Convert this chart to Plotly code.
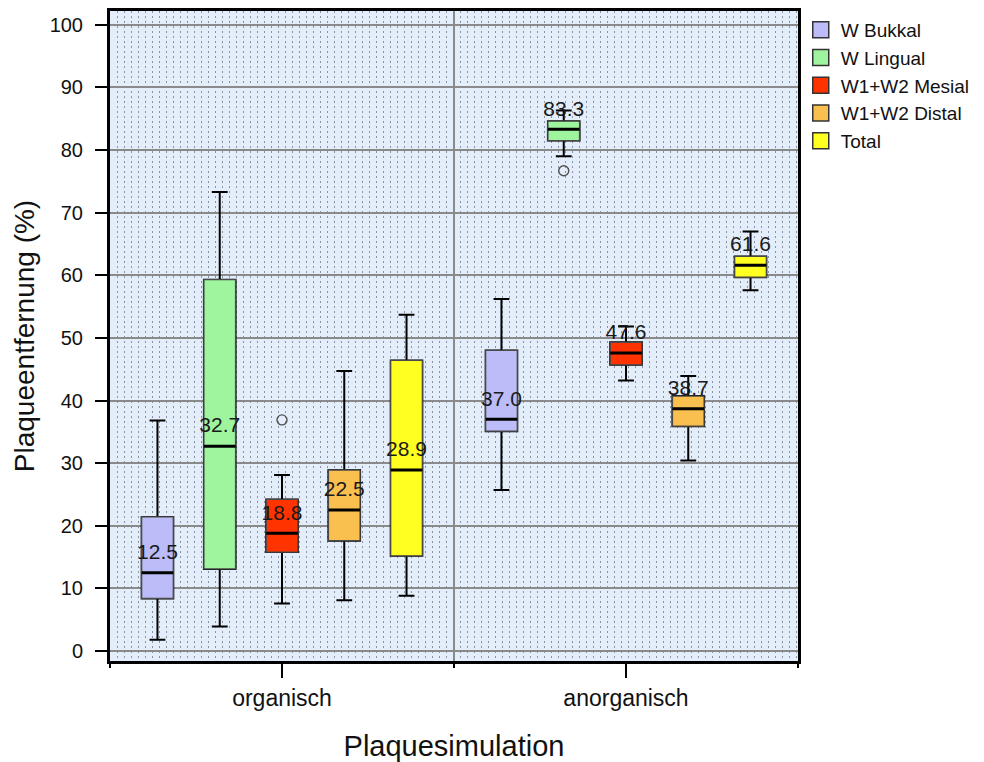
import numpy as np
import plotly.graph_objects as go

# ---------------- data ----------------
groups = ["organisch", "anorganisch"]
series = ["W Bukkal", "W Lingual", "W1+W2 Mesial", "W1+W2 Distal", "Total"]
colors = ["#bcbcf8", "#9ef59e", "#ff3300", "#f9c04f", "#ffff22"]

# statistics per series, each list = [organisch, anorganisch]
lowerfence = [[1.8, 25.7], [3.9, 79.0], [7.6, 43.2], [8.1, 30.4], [8.8, 57.6]]
q1 = [[8.4, 35.1], [13.1, 81.5], [15.8, 45.7], [17.6, 35.9], [15.2, 59.7]]
median = [[12.5, 37.0], [32.7, 83.3], [18.8, 47.6], [22.5, 38.7], [28.9, 61.6]]
q3 = [[21.4, 48.0], [59.3, 84.6], [24.2, 49.3], [28.9, 40.7], [46.4, 63.0]]
upperfence = [[36.8, 56.2], [73.3, 86.3], [28.1, 51.8], [44.7, 43.9], [53.7, 67.0]]
outliers = [[[], []], [[], [76.7]], [[36.9], []], [[], []], [[], []]]

y_ticks = list(range(0, 101, 10))

# ---------------- layout helpers ----------------
FONT = "Liberation Sans, Arial, Helvetica, sans-serif"
slot = 0.181
box_w = 0.092
grp = np.arange(len(groups))
plot_w = 984 - 110 - 186

fig = go.Figure()

for s, name in enumerate(series):
    xs = grp + (s - (len(series) - 1) / 2) * slot
    # whiskers + body
    fig.add_trace(go.Box(
        x=xs, q1=q1[s], median=median[s], q3=q3[s],
        lowerfence=lowerfence[s], upperfence=upperfence[s],
        width=box_w, whiskerwidth=0.5, fillcolor=colors[s],
        line=dict(color="black", width=2), boxpoints=False,
        showlegend=False, hoverinfo="skip"))
    # body with thinner grey outline
    fig.add_trace(go.Box(
        x=xs, q1=q1[s], median=median[s], q3=q3[s],
        lowerfence=q1[s], upperfence=q3[s],
        width=box_w, whiskerwidth=0, fillcolor=colors[s],
        line=dict(color="#4a4a4a", width=1.3), boxpoints=False,
        showlegend=False, hoverinfo="skip"))
    # thick median line
    fig.add_trace(go.Box(
        x=xs, q1=median[s], median=median[s], q3=median[s],
        lowerfence=median[s], upperfence=median[s],
        width=box_w, whiskerwidth=0, fillcolor="rgba(0,0,0,0)",
        line=dict(color="black", width=3), boxpoints=False,
        showlegend=False, hoverinfo="skip"))
    # outliers
    ox, oy = [], []
    for g in range(len(groups)):
        for v in outliers[s][g]:
            ox.append(xs[g])
            oy.append(v)
    if ox:
        fig.add_trace(go.Scatter(
            x=ox, y=oy, mode="markers", showlegend=False, hoverinfo="skip",
            marker=dict(symbol="circle-open", size=10, color="#505050",
                        line=dict(width=1.4, color="#505050"))))
    # median labels
    fig.add_trace(go.Scatter(
        x=xs, y=median[s], mode="markers+text",
        text=[f"{v:.1f}" for v in median[s]],
        textposition="top center", showlegend=False, hoverinfo="skip",
        marker=dict(size=12, color="rgba(0,0,0,0)"),
        textfont=dict(size=21, color="#1a1a1a", family=FONT)))

# legend entries
for s, name in enumerate(series):
    fig.add_trace(go.Scatter(
        x=[None], y=[None], mode="markers", name=name,
        marker=dict(symbol="square", size=16, color=colors[s],
                    line=dict(width=1.5, color="#333333"))))

# dummy trace for the secondary x axis (category separators)
fig.add_trace(go.Scatter(x=[None], y=[None], xaxis="x2", showlegend=False,
                         hoverinfo="skip"))

xr = [-0.5, len(groups) - 0.5]
fig.update_layout(
    width=984, height=762,
    margin=dict(l=110, r=186, t=11, b=101, autoexpand=False),
    paper_bgcolor="white",
    plot_bgcolor="#e4eefa",
    font=dict(family=FONT, color="#111111"),
    xaxis=dict(
        range=xr, tickmode="array", tickvals=list(grp), ticktext=groups,
        ticks="outside", ticklen=14, tickwidth=1.5, tickcolor="black",
        showgrid=False, zeroline=False, automargin=False,
        showline=True, mirror=True, linewidth=3, linecolor="black",
        tickfont=dict(size=23), ticklabelstandoff=0,
        title=dict(text="Plaquesimulation", font=dict(size=29), standoff=30),
        minor=dict(tickmode="linear", tick0=-0.5,
                   dtick=7 * (xr[1] - xr[0]) / plot_w, ticks="",
                   showgrid=True, gridcolor="#8894a6", gridwidth=1,
                   griddash="2px,3px"),
    ),
    xaxis2=dict(
        overlaying="x", anchor="y", side="bottom", range=xr,
        tickmode="array", tickvals=[-0.5, 0.5, 1.5], automargin=False,
        ticks="outside", ticklen=6, tickwidth=1.5, tickcolor="black",
        showticklabels=False, showgrid=True, gridcolor="#8a8a8a",
        gridwidth=1.5, zeroline=False, showline=False,
    ),
    yaxis=dict(
        range=[-1.6, 102.2], tickmode="array", tickvals=y_ticks,
        ticks="outside", ticklen=12, tickwidth=1.5, tickcolor="black",
        showgrid=True, gridcolor="#8a8a8a", gridwidth=1.5, zeroline=False,
        showline=True, mirror=True, linewidth=3, linecolor="black",
        tickfont=dict(size=20), ticklabelstandoff=8, automargin=False,
        title=dict(text="Plaqueentfernung (%)", font=dict(size=28), standoff=7),
    ),
    legend=dict(
        x=1.004, y=1.0, xanchor="left", yanchor="top",
        font=dict(size=19, color="#111111"), bgcolor="rgba(0,0,0,0)",
        itemwidth=30, tracegroupgap=0,
    ),
    showlegend=True,
)

fig.write_html("out.html")
